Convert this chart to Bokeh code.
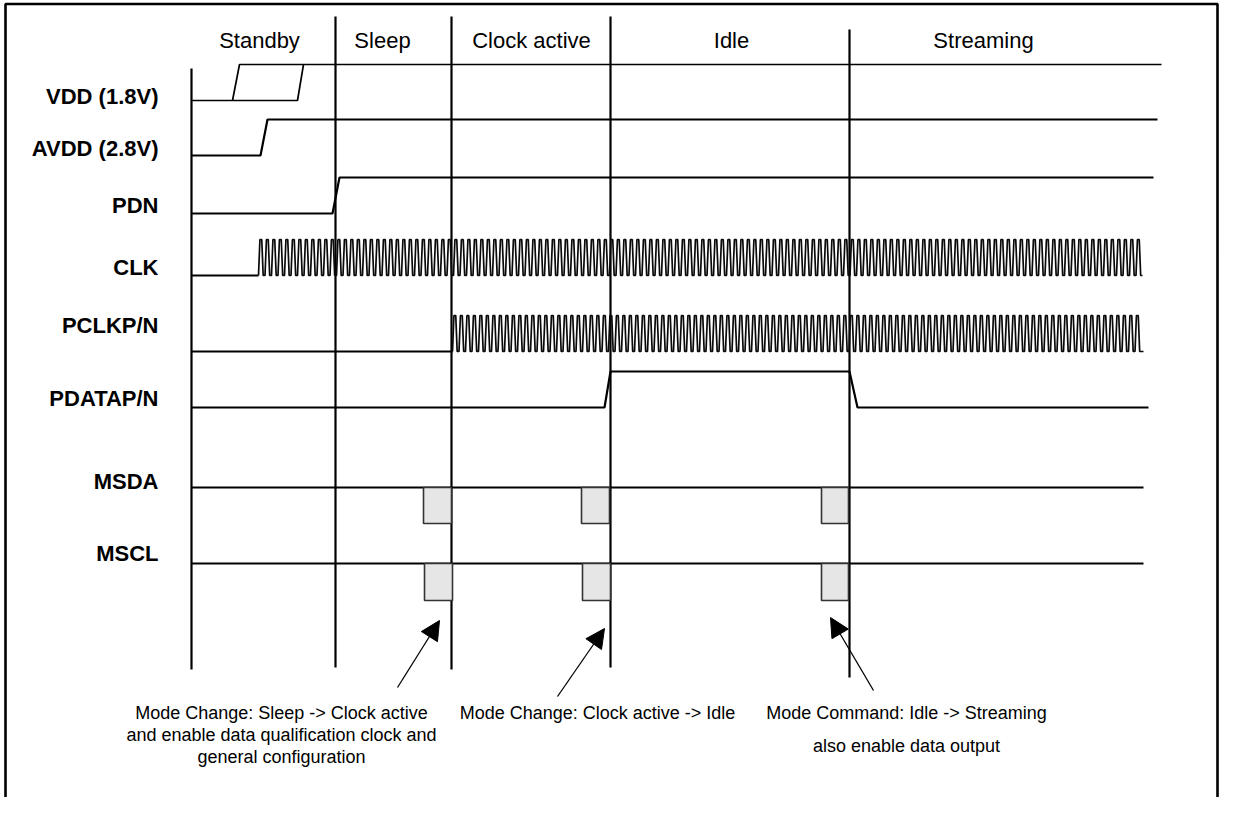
from bokeh.plotting import figure
from bokeh.models import Range1d, Arrow, NormalHead
from bokeh.core.properties import value
from bokeh.embed import file_html
from bokeh.resources import INLINE

# ---------------- data (time axis in drawing units) ----------------
modes = ["Standby", "Sleep", "Clock active", "Idle", "Streaming"]
mode_label_t = [259, 382, 531, 731, 983]
mode_bounds = [191, 335, 451, 610, 849]
mode_bound_top = [68, 16, 16, 16, 29]
mode_bound_bottom = [669, 667, 669, 667, 677]

signals = ["VDD (1.8V)", "AVDD (2.8V)", "PDN", "CLK", "PCLKP/N", "PDATAP/N", "MSDA", "MSCL"]
signal_label_y = [96, 148, 205, 267, 325, 398, 481, 553]

# level waveforms: (times, levels) polylines, 0 = low, 1 = high
vdd_t1 = [191, 297, 303]
vdd_l1 = [0, 0, 1]
vdd_t2 = [232, 239, 1161]
vdd_l2 = [0, 1, 1]
avdd_t = [191, 260, 267, 1157]
avdd_l = [0, 0, 1, 1]
pdn_t = [191, 332, 339, 1153]
pdn_l = [0, 0, 1, 1]
pdata_t = [191, 604, 610, 849, 857, 1148]
pdata_l = [0, 0, 1, 1, 0, 0]

clk_start, clk_end = 258, 1142
pclk_start, pclk_end = 452, 1143
clk_period = 6.5

bus_end = 1143
msda_cmd_left = [423, 581, 821]
msda_cmd_right = [451, 609, 848]
mscl_cmd_left = [424, 582, 821]
mscl_cmd_right = [452, 610, 848]

# annotation arrows (tail -> head)
arrow_x0 = [397, 557, 873]
arrow_y0 = [687, 696, 690]
arrow_x1 = [439, 604, 830]
arrow_y1 = [620, 628, 617]

notes = [
    ["Mode Change: Sleep -> Clock active", "and enable data qualification clock and", "general configuration"],
    ["Mode Change: Clock active -> Idle"],
    ["Mode Command: Idle -> Streaming", "also enable data output"],
]
note_x = [281, 597, 906]
note_y = [[712, 734, 756], [712], [712, 745]]

# ---------------- layout / style ----------------
row_low = [100, 155, 213, 275, 351, 407]   # VDD, AVDD, PDN, CLK, PCLK, PDATA
swing = 36
bus_y = [487, 563]
box_h = 36
FONT = value("Liberation Sans")

W, H = 1219, 797
p = figure(width=W, height=H, x_range=Range1d(0, W), y_range=Range1d(H, 0),
           output_backend="svg", toolbar_location=None, min_border=0,
           x_axis_type=None, y_axis_type=None)
p.grid.visible = False
p.outline_line_color = None
p.background_fill_color = "white"
p.border_fill_color = "white"

LW = 2.2

def lv(row, levels):
    return [row_low[row] - swing * l for l in levels]

# outer frame (left, top, right)
p.line([5, 5, W - 2, W - 2], [H + 5, 3.5, 3.5, H + 5], line_color="black", line_width=2.6)

# mode boundaries
p.segment(x0=mode_bounds, y0=mode_bound_top, x1=mode_bounds, y1=mode_bound_bottom,
          line_color="black", line_width=LW)

# mode headers
p.text(x=mode_label_t, y=[40] * len(modes), text=modes, text_align="center",
       text_baseline="middle", text_font=FONT, text_font_size="22px", text_color="black")

# signal labels
p.text(x=[158] * len(signals), y=signal_label_y, text=signals, text_align="right",
       text_baseline="middle", text_font=FONT, text_font_size="22px",
       text_font_style="bold", text_color="black")

# supply / level waveforms
p.line(vdd_t1, lv(0, vdd_l1), line_color="black", line_width=1.7)
p.line(vdd_t2, lv(0, vdd_l2), line_color="black", line_width=1.7)
p.line(avdd_t, lv(1, avdd_l), line_color="black", line_width=LW)
p.line(pdn_t, lv(2, pdn_l), line_color="black", line_width=LW)
p.line(pdata_t, lv(5, pdata_l), line_color="black", line_width=LW)

# clocks
def clock_path(t0, t1, row):
    xs, ys = [], []
    lo, hi = row_low[row], row_low[row] - swing
    t = t0
    r = clk_period * 0.22
    f = clk_period * 0.28
    while t + clk_period <= t1 + 0.01:
        xs += [t, t + r, t + r + f, t + 2 * r + f]
        ys += [lo, hi, hi, lo]
        t += clk_period
    xs.append(t1)
    ys.append(lo)
    return xs, ys

p.line([191, clk_start], [row_low[3]] * 2, line_color="black", line_width=LW)
cx, cy = clock_path(clk_start, clk_end, 3)
p.line(cx, cy, line_color="#0a0a0a", line_width=1.7)
p.line([191, pclk_start], [row_low[4]] * 2, line_color="black", line_width=LW)
px_, py_ = clock_path(pclk_start, pclk_end, 4)
p.line(px_, py_, line_color="#0a0a0a", line_width=1.7)

# serial bus lines and command boxes
p.line([191, bus_end], [bus_y[0]] * 2, line_color="black", line_width=LW)
p.line([191, bus_end], [bus_y[1]] * 2, line_color="black", line_width=LW)
p.quad(left=msda_cmd_left, right=msda_cmd_right, top=[bus_y[0]] * 3,
       bottom=[bus_y[0] + box_h] * 3, fill_color="#e6e6e6", line_color="#333333", line_width=1.6)
p.quad(left=mscl_cmd_left, right=mscl_cmd_right, top=[bus_y[1]] * 3,
       bottom=[bus_y[1] + box_h + 1] * 3, fill_color="#e6e6e6", line_color="#333333", line_width=1.6)

# arrows
for i in range(3):
    p.add_layout(Arrow(end=NormalHead(size=19, fill_color="black", line_color="black"),
                       x_start=arrow_x0[i], y_start=arrow_y0[i],
                       x_end=arrow_x1[i], y_end=arrow_y1[i],
                       line_color="black", line_width=1.3))

# notes
for i, lines in enumerate(notes):
    p.text(x=[note_x[i]] * len(lines), y=note_y[i], text=lines, text_align="center",
           text_baseline="middle", text_font=FONT, text_font_size="18px", text_color="black")

open("out.html", "w").write(file_html(p, INLINE))
